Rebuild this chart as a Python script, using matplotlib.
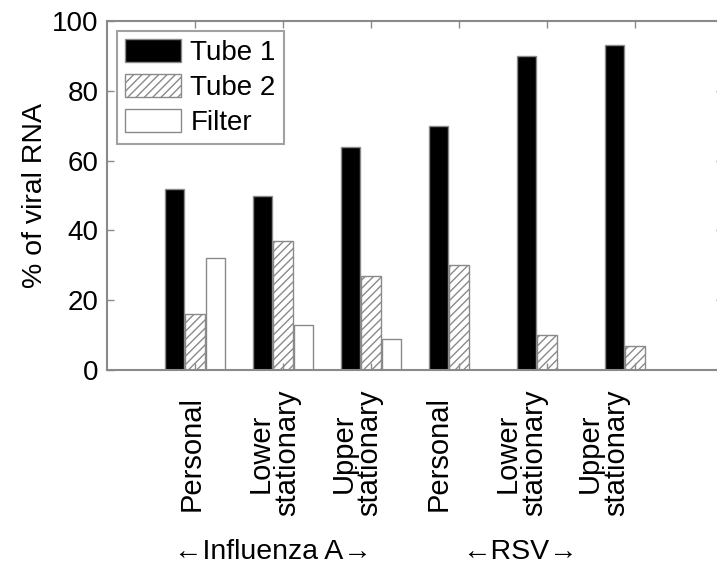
import numpy as np
import matplotlib.pyplot as plt
from matplotlib.transforms import blended_transform_factory

plt.rcParams['font.family'] = ['Liberation Sans', 'DejaVu Sans']
plt.rcParams['hatch.color'] = '#8a8a8a'
plt.rcParams['hatch.linewidth'] = 1.0

# % of viral RNA recovered per sampler location
sites = ["Personal", "Lower\nstationary", "Upper\nstationary",
         "Personal", "Lower\nstationary", "Upper\nstationary"]
tube1 = [52, 50, 64, 70, 90, 93]
tube2 = [16, 37, 27, 30, 10, 7]
filt = [32, 13, 9, 0, 0, 0]
groups = ["\u2190Influenza A\u2192", "\u2190RSV\u2192"]

edge = '#8a8a8a'
x = np.arange(1, len(sites) + 1)
w = 0.22
off = 0.233

fig = plt.figure(figsize=(7.17, 5.72), dpi=100)
ax = fig.add_axes([0.1492, 0.3531, 0.859, 0.6102])

ax.bar(x - off, tube1, w, color='black', edgecolor=edge, linewidth=1, label='Tube 1')
ax.bar(x, tube2, w, color='white', edgecolor=edge, linewidth=1, hatch='////', label='Tube 2')
ax.bar(x + off, filt, w, color='white', edgecolor=edge, linewidth=1, label='Filter')

ax.set_xlim(0, 7)
ax.set_ylim(0, 100)
ax.set_yticks(range(0, 101, 20))
ax.set_xticks(x)
ax.set_xticklabels([])
ax.tick_params(direction='in', length=5, width=1, color=edge, labelsize=20,
               top=True, right=True, pad=6)
for s in ax.spines.values():
    s.set_color(edge)
    s.set_linewidth(1.5)

ax.set_ylabel("% of viral RNA", fontsize=20.5, labelpad=3)

# site labels, rotated and centred a bit left of the tick marks
trans = blended_transform_factory(ax.transData, fig.transFigure)
lab_x = 0.966 + 0.935 * np.arange(len(sites))
for xi, s in zip(lab_x, sites):
    ax.text(xi, 0.208, s, rotation=90, fontsize=21, ha='center', va='center',
            multialignment='center', linespacing=0.92, transform=trans)

# group captions under the site labels
fig.text(273 / 717, 1 - 552 / 572, groups[0], fontsize=20.5, ha='center', va='center')
fig.text(520 / 717, 1 - 552 / 572, groups[1], fontsize=20.5, ha='center', va='center')

leg = ax.legend(loc='upper left', fontsize=20, frameon=True, fancybox=False,
                edgecolor=edge, handlelength=2.0, handleheight=0.9,
                labelspacing=0.28, borderpad=0.3, handletextpad=0.35,
                borderaxespad=0.35)
leg.get_frame().set_linewidth(1.5)

fig.savefig("out.png", dpi=100)
